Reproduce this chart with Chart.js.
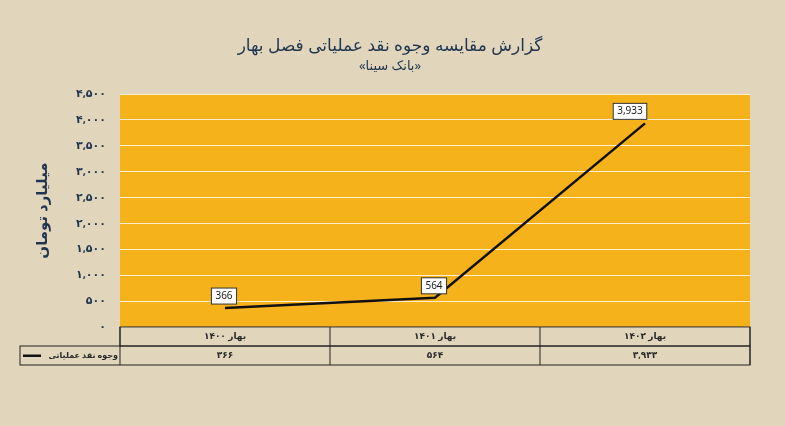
<!DOCTYPE html>
<html><head><meta charset="utf-8">
<script src="https://cdn.jsdelivr.net/npm/chart.js@4"></script>
<style>
body{margin:0;background:#e1d6bb;}
#wrap{width:785px;height:426px;position:relative;}
</style></head>
<body><div id="wrap"><canvas id="c" width="785" height="426"></canvas></div>
<script>
const categories = ['بهار ۱۴۰۰', 'بهار ۱۴۰۱', 'بهار ۱۴۰۲'];
const values = [366, 564, 3933];
const seriesName = 'وجوه نقد عملیاتی';
const titleText = 'گزارش مقایسه وجوه نقد عملیاتی فصل بهار';
const subtitleText = '«بانک سینا»';
const yTitle = 'میلیارد تومان';

const faDigits = s => String(s).replace(/\d/g, d => '۰۱۲۳۴۵۶۷۸۹'[d]);
const fmt = v => v.toLocaleString('en-US');

// جدول داده زیر نمودار + برچسب مقادیر
const tablePlugin = {
  id: 'table',
  afterDraw(chart) {
    const ctx = chart.ctx, x = chart.scales.x, a = chart.chartArea;
    const top = a.bottom, rowH = 19, left = 20;
    const w = (a.right - a.left) / categories.length;
    ctx.save();
    ctx.strokeStyle = '#222'; ctx.lineWidth = 1;
    ctx.strokeRect(a.left, top, a.right - a.left, rowH);
    ctx.strokeRect(left, top + rowH, a.right - left, rowH);
    for (let i = 0; i <= categories.length; i++) {
      const px = a.left + w * i;
      ctx.beginPath(); ctx.moveTo(px, top); ctx.lineTo(px, top + rowH * 2); ctx.stroke();
    }
    ctx.fillStyle = '#2a2a2a';
    ctx.font = 'bold 9px "Noto Sans", "DejaVu Sans"';
    ctx.textAlign = 'center'; ctx.textBaseline = 'middle';
    categories.forEach((c, i) => {
      const cx = x.getPixelForValue(i);
      ctx.fillText(c, cx, top + rowH / 2);
      ctx.fillText(faDigits(fmt(values[i])), cx, top + rowH * 1.5);
    });
    ctx.font = 'bold 8px "Noto Sans", "DejaVu Sans"';
    ctx.textAlign = 'right';
    ctx.fillText(seriesName, a.left - 2, top + rowH * 1.5);
    ctx.fillStyle = '#111';
    ctx.fillRect(left + 3, top + rowH * 1.5 - 1, 18, 2.5);
    // برچسب مقادیر
    const meta = chart.getDatasetMeta(0);
    ctx.font = '10px "Noto Sans", "DejaVu Sans"';
    ctx.textAlign = 'center';
    meta.data.forEach((p, i) => {
      const t = fmt(values[i]);
      const tw = ctx.measureText(t).width + 8;
      const bx = p.x - (i === values.length - 1 ? 15 : 1), by = p.y - 12;
      ctx.fillStyle = '#fff'; ctx.fillRect(bx - tw / 2, by - 8, tw, 16);
      ctx.strokeStyle = '#333'; ctx.strokeRect(bx - tw / 2, by - 8, tw, 16);
      ctx.fillStyle = '#222'; ctx.fillText(t, bx, by);
    });
    ctx.restore();
  }
};

const areaBg = {
  id: 'areaBg',
  beforeDraw(chart) {
    const a = chart.chartArea, ctx = chart.ctx;
    ctx.save(); ctx.fillStyle = '#f6b21b';
    ctx.fillRect(a.left, a.top, a.right - a.left, a.bottom - a.top);
    ctx.restore();
  }
};

new Chart(document.getElementById('c'), {
  type: 'line',
  data: {
    labels: categories,
    datasets: [{
      label: seriesName,
      data: values,
      borderColor: '#111',
      borderWidth: 2.5,
      pointRadius: 0,
      tension: 0
    }]
  },
  options: {
    responsive: false,
    animation: false,
    layout: { padding: { left: 30, right: 35, top: 0, bottom: 99 } },
    plugins: {
      legend: { display: false },
      tooltip: { enabled: false },
      title: {
        display: true, text: titleText, color: '#1f3550',
        font: { size: 17, weight: 'normal', family: '"Noto Sans", "DejaVu Sans"' },
        padding: { top: 36, bottom: 2 }
      },
      subtitle: {
        display: true, text: subtitleText, color: '#1f3550',
        font: { size: 13, family: '"Noto Sans", "DejaVu Sans"' },
        padding: { bottom: 20 }
      }
    },
    scales: {
      x: { display: false, offset: true },
      y: {
        min: 0, max: 4500,
        border: { display: false },
        grid: { color: 'rgba(255,255,255,0.8)', drawTicks: false },
        ticks: {
          stepSize: 500, padding: 14, color: '#1f3550',
          font: { size: 11, weight: 'bold', family: '"Noto Sans", "DejaVu Sans"' },
          callback: v => faDigits(fmt(v))
        },
        title: {
          display: true, text: yTitle, color: '#1f3550',
          font: { size: 15, weight: 'bold', family: '"Noto Sans", "DejaVu Sans"' },
          padding: { bottom: 10 }
        }
      }
    }
  },
  plugins: [areaBg, tablePlugin]
});
</script></body></html>
